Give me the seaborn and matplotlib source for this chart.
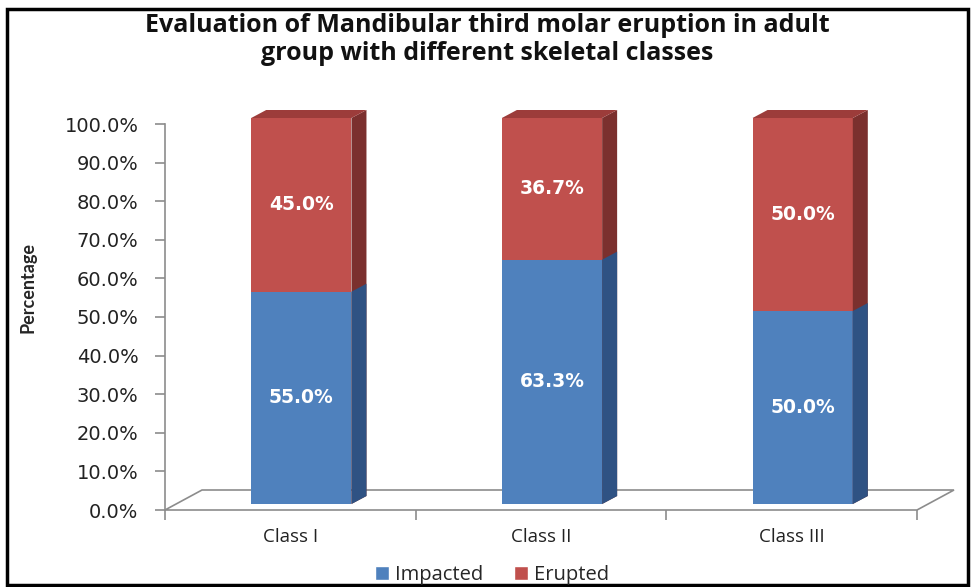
import numpy as np
import pandas as pd
import seaborn as sns
import matplotlib.pyplot as plt
from matplotlib.patches import Polygon, Patch, Rectangle
from matplotlib.transforms import ScaledTranslation

# %% datos

clases = ['Class I', 'Class II', 'Class III']
impactado = [55.0, 63.3, 50.0]
erupcionado = [45.0, 36.7, 50.0]

azul, azul_lado = '#4F81BD', '#2F5283'
rojo, rojo_lado, rojo_top = '#C0504D', '#7B302E', '#9C3C3A'

df = pd.DataFrame({'clase': clases, 'Impacted': impactado, 'Erupted': erupcionado})
df['total'] = df['Impacted'] + df['Erupted']

# %% figura

sns.set_style('white')
fig = plt.figure(figsize=(9.71, 5.87), dpi=100)
ax = fig.add_axes([165/971, 77/587, 752/971, 386/587])
ax.set_xlim(-0.5, 2.5)
ax.set_ylim(0, 100)

# px -> unidades de datos
px_x = 3.0 / 752
px_y = 100 / 386

# piso 3d
piso = Polygon([(-0.5, 0), (2.5, 0), (2.5 + 37*px_x, 20*px_y), (-0.5 + 37*px_x, 20*px_y)],
               closed=True, fill=False, edgecolor='#8c8c8c', lw=1.2, clip_on=False, zorder=1)
ax.add_patch(piso)

# barras apiladas (frente)
sns.barplot(data=df, x='clase', y='total', color=rojo, saturation=1, width=0.4, ax=ax)
sns.barplot(data=df, x='clase', y='Impacted', color=azul, saturation=1, width=0.4, ax=ax)

desp = ax.transData + ScaledTranslation(0.11, 0.06, fig.dpi_scale_trans)
dx, dy = 15*px_x, 8*px_y

for cont, lado, top in [(ax.containers[0], rojo_lado, rojo_top), (ax.containers[1], azul_lado, None)]:
    for b in cont:
        b.set_transform(desp)
        b.set_clip_on(False)
        b.set_edgecolor('none')
        b.set_zorder(3)
        x0, y0 = b.get_x(), b.get_y()
        x1, y1 = x0 + b.get_width(), y0 + b.get_height()
        ax.add_patch(Polygon([(x1, y0), (x1, y1), (x1+dx, y1+dy), (x1+dx, y0+dy)],
                             closed=True, facecolor=lado, edgecolor='none',
                             transform=desp, clip_on=False, zorder=3))
        if top is not None:
            ax.add_patch(Polygon([(x0, y1), (x1, y1), (x1+dx, y1+dy), (x0+dx, y1+dy)],
                                 closed=True, facecolor=top, edgecolor='none',
                                 transform=desp, clip_on=False, zorder=3))

# etiquetas de datos
for i in range(len(clases)):
    ax.text(i, impactado[i]/2, f'{impactado[i]:.1f}%', transform=desp, ha='center', va='center',
            color='white', fontsize=13.5, fontweight='bold', zorder=5)
    ax.text(i, impactado[i] + erupcionado[i]/2, f'{erupcionado[i]:.1f}%', transform=desp,
            ha='center', va='center', color='white', fontsize=13.5, fontweight='bold', zorder=5)

# ejes
for s in ['top', 'right', 'bottom']:
    ax.spines[s].set_visible(False)
ax.spines['left'].set_color('#8c8c8c')
ax.spines['left'].set_linewidth(1.2)

ax.set_yticks(np.arange(0, 101, 10))
ax.set_yticklabels([f'{v:.1f}%' for v in np.arange(0, 101, 10)], fontsize=14, color='#222222')
ax.tick_params(axis='y', length=7, width=1.2, color='#8c8c8c', direction='out', pad=12, left=True)

ax.set_xticks([0, 1, 2])
ax.set_xticklabels(clases, fontsize=13.5, family='Open Sans', color='#222222')
ax.set_xticks([-0.5, 0.5, 1.5, 2.5], minor=True)
ax.tick_params(axis='x', which='major', length=0, pad=13)
ax.tick_params(axis='x', which='minor', length=7, width=1.2, color='#8c8c8c', direction='out', bottom=True)
ax.set_xlabel('')
ax.set_ylabel('')

fig.text(28/971, 1 - 288/587, 'Percentage', rotation=90, ha='center', va='center',
         fontsize=13, fontweight='bold', family=['Liberation Sans Narrow', 'Lato'])

fig.text(487/971, 1 - 25/587, 'Evaluation of Mandibular third molar eruption in adult',
         ha='center', va='center', fontsize=18, fontweight='bold', family='Open Sans', color='#111111')
fig.text(487/971, 1 - 54/587, 'group with different skeletal classes',
         ha='center', va='center', fontsize=18, fontweight='bold', family='Open Sans', color='#111111')

handles = [Patch(facecolor=azul, label='Impacted'), Patch(facecolor=rojo, label='Erupted')]
fig.legend(handles=handles, loc='center', bbox_to_anchor=(492/971, 1 - 575/587), ncol=2,
           frameon=False, handlelength=0.7, handleheight=0.7, handletextpad=0.3,
           columnspacing=1.5, prop={'family': 'Open Sans', 'size': 14.5})

# marco
fig.patches.append(Rectangle((7/971, 2/587), 961/971, 576/587, transform=fig.transFigure,
                             fill=False, edgecolor='black', lw=2.5))

fig.savefig('out.png', dpi=100)
